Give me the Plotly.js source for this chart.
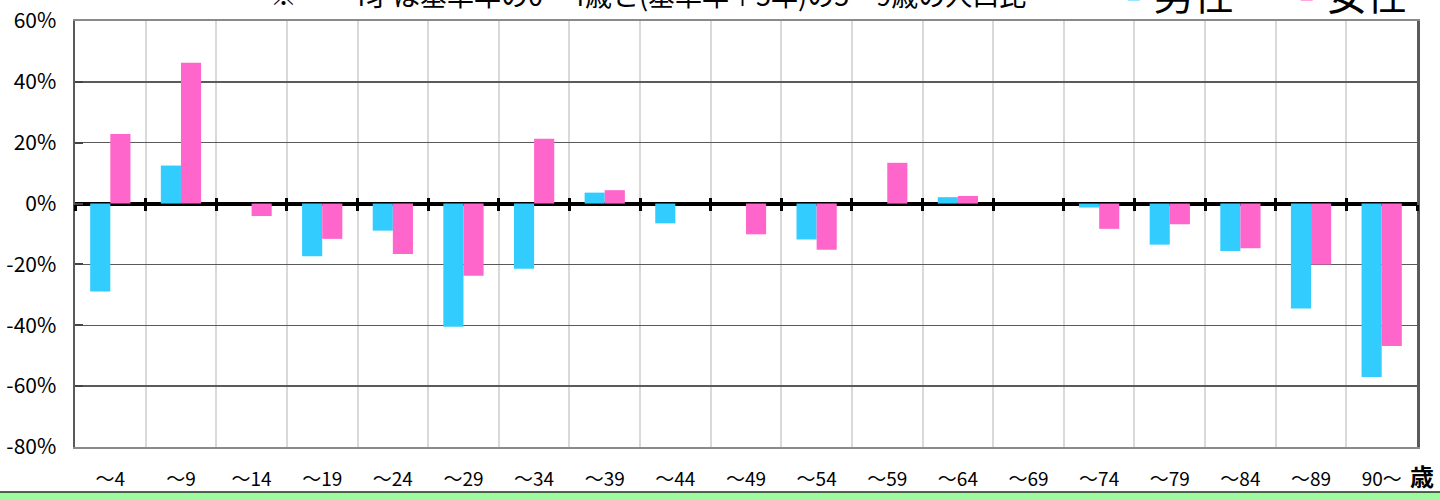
<!DOCTYPE html>
<html>
<head>
<meta charset="utf-8">
<script src="https://cdn.plot.ly/plotly-3.0.1.min.js"></script>
<style>
  html, body { margin: 0; padding: 0; background: #fff; }
  #chart { width: 1440px; height: 500px; }
</style>
</head>
<body>
<div id="chart"></div>
<script>
// Age groups (5-year bands)
const ageGroups = ['～4', '～9', '～14', '～19', '～24', '～29', '～34', '～39', '～44', '～49',
                   '～54', '～59', '～64', '～69', '～74', '～79', '～84', '～89', '90～'];

// Rate of change (%) by age group
const maleRate   = [-28.9, 12.5, 0, -17.3, -8.9, -40.5, -21.4, 3.6, -6.5, 0,
                    -11.8, 0, 2.1, 0, -1.3, -13.5, -15.6, -34.5, -57.0];
const femaleRate = [22.9, 46.3, -4.1, -11.6, -16.6, -23.7, 21.3, 4.4, 0, -10.1,
                    -15.2, 13.4, 2.5, 0, -8.3, -6.8, -14.7, -20.0, -46.8];

const seriesNames = ['男性', '女性'];
const yTickVals  = [-80, -60, -40, -20, 0, 20, 40, 60];
const yTickText  = ['-80%', '-60%', '-40%', '-20%', '0%', '20%', '40%', '60%'];
const noteText   = '※　～4才は基準年の0～4歳と(基準年＋5年)の5～9歳の人口比';
const unitText   = '歳';

const FONT = '"Noto Sans CJK JP", "Noto Sans", sans-serif';
const Y_MIN = -80, Y_MAX = 60;

// boundaries between categories, used for the tick marks on the zero line
const boundaries = ageGroups.map((_, i) => i - 0.5).concat([ageGroups.length - 0.5]);
const xRange = [-0.5, ageGroups.length - 0.5];
const zeroPos = (0 - Y_MIN) / (Y_MAX - Y_MIN);

const traces = [
  {
    type: 'bar', name: seriesNames[0], x: ageGroups, y: maleRate,
    marker: { color: '#33CCFF', line: { width: 0 } },
    hoverinfo: 'x+y+name'
  },
  {
    type: 'bar', name: seriesNames[1], x: ageGroups, y: femaleRate,
    marker: { color: '#FF66CC', line: { width: 0 } },
    hoverinfo: 'x+y+name'
  },
  // invisible carriers so the two zero-line tick axes get drawn
  {
    type: 'scatter', mode: 'markers', x: boundaries, y: boundaries.map(() => 0),
    xaxis: 'x2', yaxis: 'y', marker: { opacity: 0 }, showlegend: false, hoverinfo: 'skip'
  },
  {
    type: 'scatter', mode: 'markers', x: boundaries, y: boundaries.map(() => 0),
    xaxis: 'x3', yaxis: 'y', marker: { opacity: 0 }, showlegend: false, hoverinfo: 'skip'
  }
];

const zeroTickAxis = (side) => ({
  type: 'linear', overlaying: 'x', anchor: 'free', position: zeroPos,
  range: xRange, autorange: false, tickmode: 'array', tickvals: boundaries,
  ticks: side, ticklen: 6, tickwidth: 3, tickcolor: '#000',
  showticklabels: false, showgrid: false, zeroline: false, showline: false,
  layer: 'above traces', fixedrange: true
});

const layout = {
  width: 1440, height: 500,
  margin: { l: 75, r: 23, t: 21, b: 53, autoexpand: false },
  paper_bgcolor: '#fff', plot_bgcolor: '#fff',
  font: { family: FONT, color: '#000', size: 19 },
  barmode: 'group', bargap: 0.43, bargroupgap: 0,
  xaxis: {
    type: 'category', categoryorder: 'array', categoryarray: ageGroups,
    range: xRange, tickson: 'boundaries', ticks: '',
    showgrid: true, gridcolor: '#d9d9d9', gridwidth: 2,
    showline: true, linecolor: '#8a8a8a', linewidth: 2, mirror: true,
    tickfont: { family: FONT, size: 19, color: '#000' },
    ticklabelstandoff: 14, zeroline: false, fixedrange: true
  },
  xaxis2: zeroTickAxis('inside'),
  xaxis3: zeroTickAxis('outside'),
  yaxis: {
    range: [Y_MIN, Y_MAX], tickmode: 'array', tickvals: yTickVals, ticktext: yTickText,
    showgrid: true, gridcolor: '#5a5a5a', gridwidth: 1.3,
    zeroline: true, zerolinecolor: '#000', zerolinewidth: 4,
    showline: true, linecolor: '#5a5a5a', linewidth: 2.5, mirror: true,
    ticks: 'inside', ticklen: 8, tickwidth: 2, tickcolor: '#444',
    tickfont: { family: FONT, size: 21, color: '#000' },
    ticklabelstandoff: 12, fixedrange: true
  },
  showlegend: true,
  legend: {
    orientation: 'h', x: 0.774, xanchor: 'left', y: 1.062, yanchor: 'middle',
    font: { family: FONT, size: 40, color: '#000' },
    bgcolor: 'rgba(0,0,0,0)', entrywidth: 128, entrywidthmode: 'pixels',
    itemclick: false, itemdoubleclick: false
  },
  annotations: [
    {
      text: noteText, xref: 'paper', yref: 'paper', x: 0.427, y: 1.062,
      xanchor: 'center', yanchor: 'middle', showarrow: false,
      font: { family: FONT, size: 27, color: '#000' }
    },
    {
      text: unitText, xref: 'paper', yref: 'paper', x: 1.0037, y: -0.068,
      xanchor: 'center', yanchor: 'middle', showarrow: false,
      font: { family: FONT, size: 24, color: '#000', weight: 'bold' }
    }
  ],
  shapes: [
    {
      type: 'rect', xref: 'paper', yref: 'paper', layer: 'above',
      x0: -0.1, x1: 1.1, y0: -0.1056, y1: -0.2,
      fillcolor: '#9dfb9d', line: { color: '#2a2a2a', width: 1.5 }
    }
  ]
};

Plotly.newPlot('chart', traces, layout, { displayModeBar: false, staticPlot: true });
</script>
</body>
</html>
